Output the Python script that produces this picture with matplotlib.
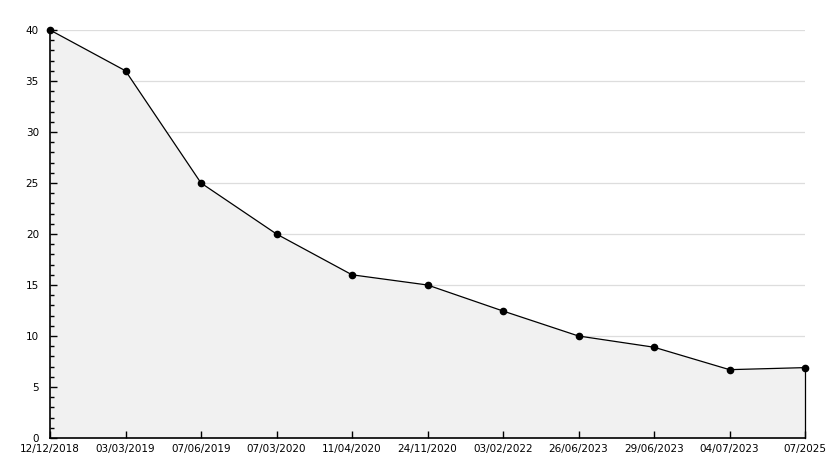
import matplotlib
matplotlib.use("Agg")
import matplotlib.pyplot as plt
from matplotlib.ticker import MultipleLocator

labels = ["12/12/2018", "03/03/2019", "07/06/2019", "07/03/2020", "11/04/2020",
          "24/11/2020", "03/02/2022", "26/06/2023", "29/06/2023", "04/07/2023",
          "07/2025"]
values = [40, 36, 25, 20, 16, 15, 12.45, 10, 8.9, 6.7, 6.9]
grid_levels = [5, 10, 15, 20, 25, 30, 35, 40]

W, H = 834, 468
fig = plt.figure(figsize=(W / 100, H / 100), dpi=100)
ax = fig.add_axes([50 / W, 30 / H, 755 / W, 408 / H])

x = list(range(len(values)))
for g in grid_levels:
    ax.axhline(g, color="#dddddd", lw=0.9, zorder=0.5)
ax.fill_between(x, values, 0, color="#f1f1f1", lw=0, zorder=1)
ax.plot(x, values, color="black", lw=0.9, zorder=3, clip_on=False)
ax.plot([x[-1], x[-1]], [0, values[-1]], color="black", lw=0.9, zorder=3, clip_on=False)
ax.plot(x, values, ls="none", marker="o", ms=4.5, color="black", zorder=4, clip_on=False)

ax.set_xlim(0, len(values) - 1)
ax.set_ylim(0, 40)
ax.set_xticks(x)
ax.set_xticklabels(labels)
ax.yaxis.set_major_locator(MultipleLocator(5))
ax.yaxis.set_minor_locator(MultipleLocator(1))
ax.tick_params(axis="both", direction="in", labelsize=7.5, width=1, color="black")
ax.tick_params(axis="y", which="major", length=5, pad=8)
ax.tick_params(axis="y", which="minor", length=3, width=1, direction="in")
ax.tick_params(axis="x", length=5, pad=4)
for s in ("top", "right"):
    ax.spines[s].set_visible(False)
ax.spines["left"].set_linewidth(1.2)
ax.spines["bottom"].set_linewidth(1.2)

fig.savefig("out.png", dpi=100)
